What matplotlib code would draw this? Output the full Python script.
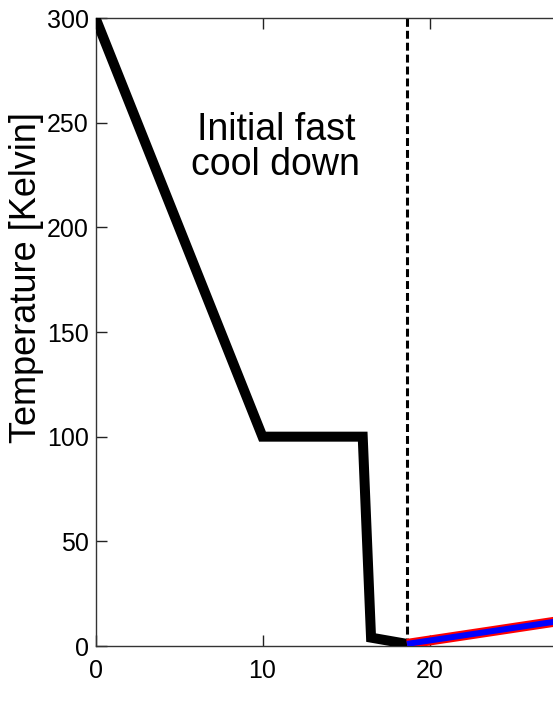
import numpy as np
import matplotlib
matplotlib.use('Agg')
import matplotlib.pyplot as plt

plt.rcParams['font.family'] = ['Liberation Sans', 'DejaVu Sans']

# cool down stage (black)
t_cool = [0, 10, 16, 16.5, 18.65]
T_cool = [300, 100, 100, 4, 1]

# slow stage (red / blue)
t_slow = [18.65, 24, 30]
T_slow = [1, 7.4, 14.6]

t_switch = 18.65

xticks = [0, 10, 20]
yticks = [0, 50, 100, 150, 200, 250, 300]

fig = plt.figure(figsize=(5.53, 7.19), dpi=100)
# axes run past the right edge of the picture (cropped figure)
ax = fig.add_axes([95.5 / 553, 73 / 719, 668 / 553, 628 / 719])

ax.plot(t_cool, T_cool, color='black', lw=7.2, solid_joinstyle='miter', zorder=3)
ax.plot(t_slow, T_slow, color='red', lw=7.2, zorder=3, solid_capstyle='butt')
ax.plot(t_slow, T_slow, color='blue', lw=4.3, zorder=4, solid_capstyle='butt')
ax.axvline(t_switch, color='black', lw=2.2, dashes=(2.6, 1.3), zorder=2)

ax.text(10.8, 238, 'Initial fast\ncool down', ha='center', va='center',
        fontsize=27, linespacing=0.95)

ax.set_xlim(0, 40)
ax.set_ylim(0, 300)
ax.set_xticks(xticks)
ax.set_yticks(yticks)
ax.tick_params(direction='in', length=8, width=1, labelsize=18,
               top=True, right=True, pad=5, colors='#222222', labelcolor='black')
ax.tick_params(axis='x', pad=9)
for s in ax.spines.values():
    s.set_linewidth(1.0)
    s.set_color('#333333')

fig.text(27 / 553, 1 - 278 / 719, 'Temperature [Kelvin]', rotation=90,
         ha='center', va='center', fontsize=26)

fig.savefig('out.png', dpi=100)
